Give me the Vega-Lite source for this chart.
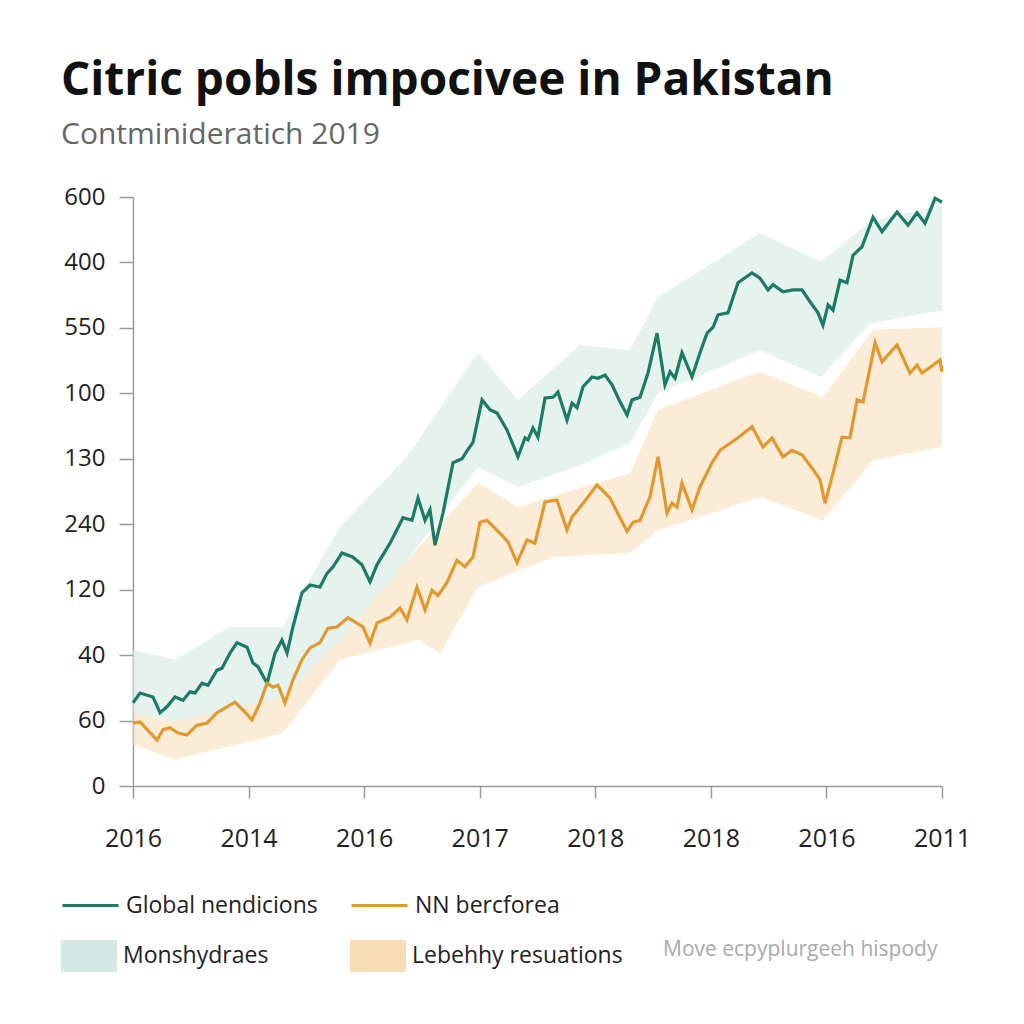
{
  "$schema": "https://vega.github.io/schema/vega-lite/v6.json",
  "autosize": {"type": "none"},
  "width": 809,
  "height": 589,
  "padding": {"left": 133, "top": 197, "right": 82, "bottom": 238},
  "background": "#ffffff",
  "config": {
    "view": {"stroke": null},
    "font": "Open Sans"
  },
  "title": {
    "text": "Citric pobls impocivee in Pakistan",
    "subtitle": "Contminideratich 2019",
    "anchor": "start",
    "frame": "bounds",
    "font": "Open Sans",
    "fontSize": 46,
    "fontWeight": "bold",
    "color": "#111111",
    "subtitleFont": "Open Sans",
    "subtitleFontSize": 30,
    "subtitleColor": "#666666",
    "subtitlePadding": 15,
    "offset": 34
  },
  "datasets": {
    "bands": [
      {"b": "Monshydraes", "x": 0, "y": 113, "y2": 208},
      {"b": "Monshydraes", "x": 0.363, "y": 98, "y2": 193},
      {"b": "Monshydraes", "x": 0.839, "y": 116, "y2": 243},
      {"b": "Monshydraes", "x": 1.298, "y": 136, "y2": 243},
      {"b": "Monshydraes", "x": 1.791, "y": 223, "y2": 396},
      {"b": "Monshydraes", "x": 2.371, "y": 345, "y2": 503},
      {"b": "Monshydraes", "x": 2.985, "y": 487, "y2": 662},
      {"b": "Monshydraes", "x": 3.331, "y": 457, "y2": 590},
      {"b": "Monshydraes", "x": 3.868, "y": 490, "y2": 674},
      {"b": "Monshydraes", "x": 4.3, "y": 524, "y2": 666},
      {"b": "Monshydraes", "x": 4.543, "y": 600, "y2": 747},
      {"b": "Monshydraes", "x": 5.425, "y": 666, "y2": 845},
      {"b": "Monshydraes", "x": 5.953, "y": 625, "y2": 801},
      {"b": "Monshydraes", "x": 6.377, "y": 707, "y2": 862},
      {"b": "Monshydraes", "x": 7, "y": 727, "y2": 888},
      {"b": "Lebehhy resuations", "x": 0, "y": 63, "y2": 113},
      {"b": "Lebehhy resuations", "x": 0.363, "y": 40, "y2": 98},
      {"b": "Lebehhy resuations", "x": 1.298, "y": 81, "y2": 136},
      {"b": "Lebehhy resuations", "x": 1.791, "y": 193, "y2": 223},
      {"b": "Lebehhy resuations", "x": 2.371, "y": 219, "y2": 345},
      {"b": "Lebehhy resuations", "x": 2.483, "y": 223, "y2": 367},
      {"b": "Lebehhy resuations", "x": 2.656, "y": 203, "y2": 400},
      {"b": "Lebehhy resuations", "x": 2.985, "y": 304, "y2": 463},
      {"b": "Lebehhy resuations", "x": 3.331, "y": 329, "y2": 426},
      {"b": "Lebehhy resuations", "x": 3.634, "y": 350, "y2": 443},
      {"b": "Lebehhy resuations", "x": 4.3, "y": 356, "y2": 478},
      {"b": "Lebehhy resuations", "x": 4.543, "y": 391, "y2": 575},
      {"b": "Lebehhy resuations", "x": 4.906, "y": 411, "y2": 599},
      {"b": "Lebehhy resuations", "x": 5.425, "y": 442, "y2": 633},
      {"b": "Lebehhy resuations", "x": 5.97, "y": 406, "y2": 594},
      {"b": "Lebehhy resuations", "x": 6.403, "y": 498, "y2": 697},
      {"b": "Lebehhy resuations", "x": 7, "y": 518, "y2": 701}
    ],
    "lines": [
      {"s": "Global nendicions", "x": 0, "y": 127},
      {"s": "Global nendicions", "x": 0.061, "y": 142},
      {"s": "Global nendicions", "x": 0.173, "y": 136},
      {"s": "Global nendicions", "x": 0.234, "y": 112},
      {"s": "Global nendicions", "x": 0.294, "y": 121},
      {"s": "Global nendicions", "x": 0.363, "y": 136},
      {"s": "Global nendicions", "x": 0.433, "y": 131},
      {"s": "Global nendicions", "x": 0.493, "y": 144},
      {"s": "Global nendicions", "x": 0.536, "y": 142},
      {"s": "Global nendicions", "x": 0.597, "y": 157},
      {"s": "Global nendicions", "x": 0.649, "y": 154},
      {"s": "Global nendicions", "x": 0.727, "y": 177},
      {"s": "Global nendicions", "x": 0.77, "y": 180},
      {"s": "Global nendicions", "x": 0.839, "y": 203},
      {"s": "Global nendicions", "x": 0.9, "y": 219},
      {"s": "Global nendicions", "x": 0.987, "y": 212},
      {"s": "Global nendicions", "x": 1.038, "y": 188},
      {"s": "Global nendicions", "x": 1.082, "y": 182},
      {"s": "Global nendicions", "x": 1.16, "y": 157},
      {"s": "Global nendicions", "x": 1.229, "y": 203},
      {"s": "Global nendicions", "x": 1.289, "y": 223},
      {"s": "Global nendicions", "x": 1.333, "y": 203},
      {"s": "Global nendicions", "x": 1.384, "y": 243},
      {"s": "Global nendicions", "x": 1.462, "y": 295},
      {"s": "Global nendicions", "x": 1.532, "y": 307},
      {"s": "Global nendicions", "x": 1.618, "y": 304},
      {"s": "Global nendicions", "x": 1.679, "y": 325},
      {"s": "Global nendicions", "x": 1.731, "y": 335},
      {"s": "Global nendicions", "x": 1.808, "y": 356},
      {"s": "Global nendicions", "x": 1.9, "y": 350},
      {"s": "Global nendicions", "x": 1.981, "y": 338},
      {"s": "Global nendicions", "x": 2.051, "y": 312},
      {"s": "Global nendicions", "x": 2.111, "y": 338},
      {"s": "Global nendicions", "x": 2.224, "y": 371},
      {"s": "Global nendicions", "x": 2.336, "y": 410},
      {"s": "Global nendicions", "x": 2.414, "y": 406},
      {"s": "Global nendicions", "x": 2.466, "y": 440},
      {"s": "Global nendicions", "x": 2.527, "y": 406},
      {"s": "Global nendicions", "x": 2.57, "y": 422},
      {"s": "Global nendicions", "x": 2.613, "y": 368},
      {"s": "Global nendicions", "x": 2.682, "y": 417},
      {"s": "Global nendicions", "x": 2.769, "y": 494},
      {"s": "Global nendicions", "x": 2.847, "y": 500},
      {"s": "Global nendicions", "x": 2.89, "y": 512},
      {"s": "Global nendicions", "x": 2.942, "y": 525},
      {"s": "Global nendicions", "x": 3.02, "y": 590},
      {"s": "Global nendicions", "x": 3.089, "y": 575},
      {"s": "Global nendicions", "x": 3.15, "y": 570},
      {"s": "Global nendicions", "x": 3.236, "y": 544},
      {"s": "Global nendicions", "x": 3.331, "y": 503},
      {"s": "Global nendicions", "x": 3.392, "y": 532},
      {"s": "Global nendicions", "x": 3.418, "y": 529},
      {"s": "Global nendicions", "x": 3.461, "y": 547},
      {"s": "Global nendicions", "x": 3.504, "y": 533},
      {"s": "Global nendicions", "x": 3.565, "y": 593},
      {"s": "Global nendicions", "x": 3.634, "y": 594},
      {"s": "Global nendicions", "x": 3.677, "y": 602},
      {"s": "Global nendicions", "x": 3.755, "y": 559},
      {"s": "Global nendicions", "x": 3.799, "y": 585},
      {"s": "Global nendicions", "x": 3.842, "y": 578},
      {"s": "Global nendicions", "x": 3.894, "y": 610},
      {"s": "Global nendicions", "x": 3.972, "y": 625},
      {"s": "Global nendicions", "x": 4.024, "y": 623},
      {"s": "Global nendicions", "x": 4.084, "y": 628},
      {"s": "Global nendicions", "x": 4.145, "y": 613},
      {"s": "Global nendicions", "x": 4.214, "y": 587},
      {"s": "Global nendicions", "x": 4.275, "y": 567},
      {"s": "Global nendicions", "x": 4.318, "y": 590},
      {"s": "Global nendicions", "x": 4.387, "y": 594},
      {"s": "Global nendicions", "x": 4.456, "y": 631},
      {"s": "Global nendicions", "x": 4.534, "y": 692},
      {"s": "Global nendicions", "x": 4.603, "y": 613},
      {"s": "Global nendicions", "x": 4.647, "y": 633},
      {"s": "Global nendicions", "x": 4.69, "y": 623},
      {"s": "Global nendicions", "x": 4.75, "y": 662},
      {"s": "Global nendicions", "x": 4.837, "y": 625},
      {"s": "Global nendicions", "x": 4.906, "y": 662},
      {"s": "Global nendicions", "x": 4.967, "y": 692},
      {"s": "Global nendicions", "x": 5.019, "y": 701},
      {"s": "Global nendicions", "x": 5.062, "y": 720},
      {"s": "Global nendicions", "x": 5.148, "y": 723},
      {"s": "Global nendicions", "x": 5.235, "y": 769},
      {"s": "Global nendicions", "x": 5.356, "y": 784},
      {"s": "Global nendicions", "x": 5.425, "y": 776},
      {"s": "Global nendicions", "x": 5.495, "y": 758},
      {"s": "Global nendicions", "x": 5.538, "y": 766},
      {"s": "Global nendicions", "x": 5.624, "y": 755},
      {"s": "Global nendicions", "x": 5.711, "y": 758},
      {"s": "Global nendicions", "x": 5.789, "y": 758},
      {"s": "Global nendicions", "x": 5.858, "y": 740},
      {"s": "Global nendicions", "x": 5.927, "y": 723},
      {"s": "Global nendicions", "x": 5.97, "y": 704},
      {"s": "Global nendicions", "x": 6.014, "y": 735},
      {"s": "Global nendicions", "x": 6.057, "y": 727},
      {"s": "Global nendicions", "x": 6.118, "y": 773},
      {"s": "Global nendicions", "x": 6.178, "y": 769},
      {"s": "Global nendicions", "x": 6.23, "y": 811},
      {"s": "Global nendicions", "x": 6.308, "y": 824},
      {"s": "Global nendicions", "x": 6.403, "y": 869},
      {"s": "Global nendicions", "x": 6.481, "y": 847},
      {"s": "Global nendicions", "x": 6.611, "y": 877},
      {"s": "Global nendicions", "x": 6.706, "y": 857},
      {"s": "Global nendicions", "x": 6.784, "y": 876},
      {"s": "Global nendicions", "x": 6.853, "y": 860},
      {"s": "Global nendicions", "x": 6.94, "y": 898},
      {"s": "Global nendicions", "x": 7, "y": 892},
      {"s": "NN bercforea", "x": 0, "y": 96},
      {"s": "NN bercforea", "x": 0.061, "y": 98},
      {"s": "NN bercforea", "x": 0.208, "y": 70},
      {"s": "NN bercforea", "x": 0.26, "y": 86},
      {"s": "NN bercforea", "x": 0.32, "y": 89},
      {"s": "NN bercforea", "x": 0.389, "y": 81},
      {"s": "NN bercforea", "x": 0.467, "y": 78},
      {"s": "NN bercforea", "x": 0.554, "y": 93},
      {"s": "NN bercforea", "x": 0.64, "y": 96},
      {"s": "NN bercforea", "x": 0.727, "y": 112},
      {"s": "NN bercforea", "x": 0.813, "y": 121},
      {"s": "NN bercforea", "x": 0.883, "y": 128},
      {"s": "NN bercforea", "x": 0.952, "y": 116},
      {"s": "NN bercforea", "x": 1.03, "y": 101},
      {"s": "NN bercforea", "x": 1.099, "y": 127},
      {"s": "NN bercforea", "x": 1.16, "y": 157},
      {"s": "NN bercforea", "x": 1.211, "y": 151},
      {"s": "NN bercforea", "x": 1.255, "y": 154},
      {"s": "NN bercforea", "x": 1.315, "y": 127},
      {"s": "NN bercforea", "x": 1.384, "y": 162},
      {"s": "NN bercforea", "x": 1.462, "y": 193},
      {"s": "NN bercforea", "x": 1.532, "y": 211},
      {"s": "NN bercforea", "x": 1.618, "y": 219},
      {"s": "NN bercforea", "x": 1.687, "y": 241},
      {"s": "NN bercforea", "x": 1.765, "y": 243},
      {"s": "NN bercforea", "x": 1.86, "y": 257},
      {"s": "NN bercforea", "x": 1.938, "y": 249},
      {"s": "NN bercforea", "x": 1.99, "y": 243},
      {"s": "NN bercforea", "x": 2.051, "y": 218},
      {"s": "NN bercforea", "x": 2.111, "y": 249},
      {"s": "NN bercforea", "x": 2.224, "y": 258},
      {"s": "NN bercforea", "x": 2.31, "y": 272},
      {"s": "NN bercforea", "x": 2.371, "y": 254},
      {"s": "NN bercforea", "x": 2.457, "y": 304},
      {"s": "NN bercforea", "x": 2.527, "y": 269},
      {"s": "NN bercforea", "x": 2.587, "y": 299},
      {"s": "NN bercforea", "x": 2.639, "y": 291},
      {"s": "NN bercforea", "x": 2.717, "y": 311},
      {"s": "NN bercforea", "x": 2.803, "y": 345},
      {"s": "NN bercforea", "x": 2.873, "y": 335},
      {"s": "NN bercforea", "x": 2.942, "y": 350},
      {"s": "NN bercforea", "x": 3.002, "y": 403},
      {"s": "NN bercforea", "x": 3.063, "y": 406},
      {"s": "NN bercforea", "x": 3.176, "y": 386},
      {"s": "NN bercforea", "x": 3.245, "y": 373},
      {"s": "NN bercforea", "x": 3.323, "y": 341},
      {"s": "NN bercforea", "x": 3.409, "y": 376},
      {"s": "NN bercforea", "x": 3.478, "y": 371},
      {"s": "NN bercforea", "x": 3.565, "y": 434},
      {"s": "NN bercforea", "x": 3.669, "y": 437},
      {"s": "NN bercforea", "x": 3.755, "y": 391},
      {"s": "NN bercforea", "x": 3.799, "y": 411},
      {"s": "NN bercforea", "x": 3.868, "y": 426},
      {"s": "NN bercforea", "x": 4.015, "y": 460},
      {"s": "NN bercforea", "x": 4.127, "y": 440},
      {"s": "NN bercforea", "x": 4.188, "y": 419},
      {"s": "NN bercforea", "x": 4.275, "y": 389},
      {"s": "NN bercforea", "x": 4.326, "y": 403},
      {"s": "NN bercforea", "x": 4.387, "y": 406},
      {"s": "NN bercforea", "x": 4.474, "y": 442},
      {"s": "NN bercforea", "x": 4.543, "y": 503},
      {"s": "NN bercforea", "x": 4.621, "y": 417},
      {"s": "NN bercforea", "x": 4.664, "y": 432},
      {"s": "NN bercforea", "x": 4.707, "y": 426},
      {"s": "NN bercforea", "x": 4.75, "y": 463},
      {"s": "NN bercforea", "x": 4.837, "y": 422},
      {"s": "NN bercforea", "x": 4.906, "y": 457},
      {"s": "NN bercforea", "x": 5.01, "y": 494},
      {"s": "NN bercforea", "x": 5.079, "y": 513},
      {"s": "NN bercforea", "x": 5.235, "y": 532},
      {"s": "NN bercforea", "x": 5.356, "y": 549},
      {"s": "NN bercforea", "x": 5.451, "y": 518},
      {"s": "NN bercforea", "x": 5.529, "y": 532},
      {"s": "NN bercforea", "x": 5.624, "y": 503},
      {"s": "NN bercforea", "x": 5.702, "y": 513},
      {"s": "NN bercforea", "x": 5.789, "y": 506},
      {"s": "NN bercforea", "x": 5.875, "y": 486},
      {"s": "NN bercforea", "x": 5.944, "y": 468},
      {"s": "NN bercforea", "x": 5.988, "y": 432},
      {"s": "NN bercforea", "x": 6.057, "y": 478},
      {"s": "NN bercforea", "x": 6.135, "y": 533},
      {"s": "NN bercforea", "x": 6.204, "y": 532},
      {"s": "NN bercforea", "x": 6.265, "y": 590},
      {"s": "NN bercforea", "x": 6.317, "y": 587},
      {"s": "NN bercforea", "x": 6.421, "y": 677},
      {"s": "NN bercforea", "x": 6.481, "y": 648},
      {"s": "NN bercforea", "x": 6.611, "y": 674},
      {"s": "NN bercforea", "x": 6.723, "y": 631},
      {"s": "NN bercforea", "x": 6.784, "y": 643},
      {"s": "NN bercforea", "x": 6.827, "y": 631},
      {"s": "NN bercforea", "x": 6.922, "y": 643},
      {"s": "NN bercforea", "x": 6.983, "y": 651},
      {"s": "NN bercforea", "x": 7, "y": 633}
    ]
  },
  "encoding": {
    "x": {
      "field": "x",
      "type": "quantitative",
      "scale": {"domain": [0, 7], "nice": false, "zero": false},
      "axis": {
        "title": null,
        "values": [0, 1, 2, 3, 4, 5, 6, 7],
        "labelExpr": "['2016','2014','2016','2017','2018','2018','2016','2011'][datum.value]",
        "grid": false,
        "domainColor": "#9a9a9a",
        "domainWidth": 1.5,
        "tickColor": "#9a9a9a",
        "tickWidth": 1.5,
        "tickSize": 12,
        "labelFont": "Open Sans",
        "labelFontSize": 25,
        "labelColor": "#222222",
        "labelPadding": 28,
        "labelFlush": false,
        "labelOverlap": false
      }
    },
    "y": {
      "field": "y",
      "type": "quantitative",
      "scale": {"domain": [0, 900], "nice": false},
      "axis": {
        "title": null,
        "values": [0, 100, 200, 300, 400, 500, 600, 700, 800, 900],
        "labelExpr": "['0','60','40','120','240','130','100','550','400','600'][round(datum.value/100)]",
        "grid": false,
        "domainColor": "#9a9a9a",
        "domainWidth": 1.5,
        "tickColor": "#9a9a9a",
        "tickWidth": 1.5,
        "tickSize": 14,
        "labelFont": "Open Sans",
        "labelFontSize": 24,
        "labelColor": "#222222",
        "labelPadding": 14,
        "labelOverlap": false
      }
    }
  },
  "layer": [
    {
      "data": {"name": "bands"},
      "transform": [{"filter": "datum.b == 'Monshydraes'"}],
      "mark": {"type": "area", "fillOpacity": 0.6},
      "encoding": {
        "y2": {"field": "y2"},
        "fill": {
          "field": "b",
          "type": "nominal",
          "scale": {"domain": ["Monshydraes"], "range": ["#d3e9e3"]},
          "legend": {
            "orient": "none",
            "legendX": -72,
            "legendY": 731,
            "title": null,
            "symbolType": "M-1,-0.57H1V0.57H-1Z",
            "symbolSize": 3136,
            "symbolOpacity": 1,
            "symbolStrokeWidth": 0,
            "labelFont": "Open Sans",
            "labelFontSize": 23,
            "labelColor": "#222222",
            "labelOffset": 6,
            "labelLimit": 500,
            "padding": 0
          }
        }
      }
    },
    {
      "data": {"name": "bands"},
      "transform": [{"filter": "datum.b == 'Lebehhy resuations'"}],
      "mark": {"type": "area", "fillOpacity": 0.55},
      "encoding": {
        "y2": {"field": "y2"},
        "fill": {
          "field": "b",
          "type": "nominal",
          "scale": {"domain": ["Lebehhy resuations"], "range": ["#f8dcb6"]},
          "legend": {
            "orient": "none",
            "legendX": 217,
            "legendY": 731,
            "title": "Move ecpyplurgeeh hispody",
            "titleOrient": "right",
            "titleAnchor": "middle",
            "titleBaseline": "middle",
            "titleFont": "Open Sans",
            "titleFontSize": 21,
            "titleFontWeight": "normal",
            "titleColor": "#aaaaaa",
            "titlePadding": 40,
            "titleLimit": 500,
            "symbolType": "M-1,-0.57H1V0.57H-1Z",
            "symbolSize": 3136,
            "symbolOpacity": 1,
            "symbolStrokeWidth": 0,
            "labelFont": "Open Sans",
            "labelFontSize": 23,
            "labelColor": "#222222",
            "labelOffset": 6,
            "labelLimit": 500,
            "padding": 0
          }
        }
      }
    },
    {
      "data": {"name": "lines"},
      "transform": [{"filter": "datum.s == 'Global nendicions'"}],
      "mark": {"type": "line", "strokeWidth": 3.2},
      "encoding": {
        "stroke": {
          "field": "s",
          "type": "nominal",
          "scale": {"domain": ["Global nendicions"], "range": ["#1c7a66"]},
          "legend": {
            "orient": "none",
            "legendX": -72,
            "legendY": 679,
            "title": null,
            "symbolType": "stroke",
            "symbolSize": 3136,
            "symbolStrokeWidth": 3,
            "labelFont": "Open Sans",
            "labelFontSize": 23,
            "labelColor": "#222222",
            "labelOffset": 6,
            "labelLimit": 500,
            "padding": 0
          }
        }
      }
    },
    {
      "data": {"name": "lines"},
      "transform": [{"filter": "datum.s == 'NN bercforea'"}],
      "mark": {"type": "line", "strokeWidth": 3.2},
      "encoding": {
        "stroke": {
          "field": "s",
          "type": "nominal",
          "scale": {"domain": ["NN bercforea"], "range": ["#e0992f"]},
          "legend": {
            "orient": "none",
            "legendX": 217,
            "legendY": 679,
            "title": null,
            "symbolType": "stroke",
            "symbolSize": 3136,
            "symbolStrokeWidth": 3,
            "labelFont": "Open Sans",
            "labelFontSize": 23,
            "labelColor": "#222222",
            "labelOffset": 6,
            "labelLimit": 500,
            "padding": 0
          }
        }
      }
    }
  ],
  "resolve": {"scale": {"fill": "independent", "stroke": "independent"}}
}
